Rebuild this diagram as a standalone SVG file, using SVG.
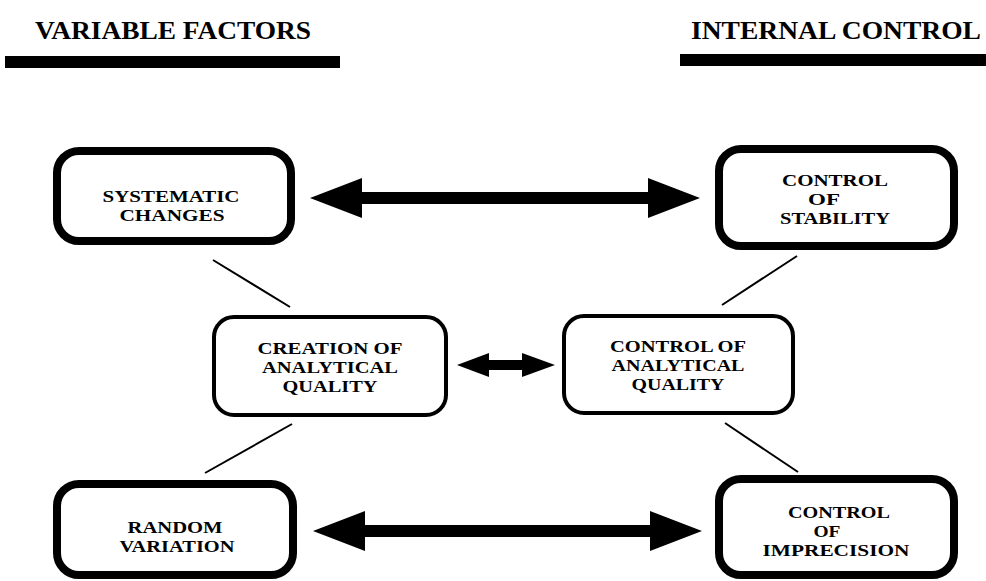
<svg xmlns="http://www.w3.org/2000/svg" width="986" height="581" viewBox="0 0 986 581">
<style>
text{font-family:"Liberation Serif","DejaVu Serif",serif;font-weight:bold;fill:#000;text-anchor:middle}
.hd{font-size:25px;text-anchor:start}
.bx{font-size:17px}
.thick{fill:#fff;stroke:#000;stroke-width:8}
.thin{fill:#fff;stroke:#000;stroke-width:4}
.ln{stroke:#000;stroke-width:2;fill:none}
.arr{fill:#000;stroke:none}
</style>
<rect width="986" height="581" fill="#fff"/>
<g id="header-left">
<text class="hd" x="35" y="39" textLength="276" lengthAdjust="spacingAndGlyphs">VARIABLE FACTORS</text>
<rect x="5" y="56" width="335" height="12" fill="#000"/>
</g>
<g id="header-right">
<text class="hd" x="691" y="39" textLength="290" lengthAdjust="spacingAndGlyphs">INTERNAL CONTROL</text>
<rect x="680" y="54" width="306" height="12" fill="#000"/>
</g>
<g id="connectors">
<line class="ln" x1="213" y1="260" x2="290" y2="307"/>
<line class="ln" x1="797" y1="256" x2="722" y2="305"/>
<line class="ln" x1="205" y1="473" x2="292" y2="424"/>
<line class="ln" x1="725" y1="423" x2="798" y2="472"/>
<polygon class="arr" points="310,198 362,178 362,192 648,192 648,178 700,198 648,218 648,204 362,204 362,218"/>
<polygon class="arr" points="457,365 489,353 489,360 522,360 522,353 555,365 522,377 522,370 489,370 489,377"/>
<polygon class="arr" points="313,531 365,511 365,525 650,525 650,511 702,531 650,551 650,537 365,537 365,551"/>
</g>
<g id="systematic-changes">
<rect class="thick" x="57" y="151" width="234" height="90" rx="22"/>
<text class="bx" x="171" y="202" textLength="137" lengthAdjust="spacingAndGlyphs">SYSTEMATIC</text>
<text class="bx" x="172" y="221" textLength="105" lengthAdjust="spacingAndGlyphs">CHANGES</text>
</g>
<g id="control-of-stability">
<rect class="thick" x="719" y="149" width="235" height="97" rx="22"/>
<text class="bx" x="835" y="186" textLength="106" lengthAdjust="spacingAndGlyphs">CONTROL</text>
<text class="bx" x="824" y="205" textLength="32" lengthAdjust="spacingAndGlyphs">OF</text>
<text class="bx" x="835" y="224" textLength="110" lengthAdjust="spacingAndGlyphs">STABILITY</text>
</g>
<g id="creation-of-analytical-quality">
<rect class="thin" x="214" y="317" width="232" height="98" rx="20"/>
<text class="bx" x="330" y="354" textLength="145" lengthAdjust="spacingAndGlyphs">CREATION OF</text>
<text class="bx" x="330" y="373" textLength="136" lengthAdjust="spacingAndGlyphs">ANALYTICAL</text>
<text class="bx" x="330" y="392" textLength="95" lengthAdjust="spacingAndGlyphs">QUALITY</text>
</g>
<g id="control-of-analytical-quality">
<rect class="thin" x="564" y="316" width="229" height="97" rx="20"/>
<text class="bx" x="678" y="352" textLength="136" lengthAdjust="spacingAndGlyphs">CONTROL OF</text>
<text class="bx" x="678" y="371" textLength="133" lengthAdjust="spacingAndGlyphs">ANALYTICAL</text>
<text class="bx" x="678" y="390" textLength="93" lengthAdjust="spacingAndGlyphs">QUALITY</text>
</g>
<g id="random-variation">
<rect class="thick" x="57" y="484" width="236" height="91" rx="22"/>
<text class="bx" x="175" y="533" textLength="95" lengthAdjust="spacingAndGlyphs">RANDOM</text>
<text class="bx" x="177" y="552" textLength="115" lengthAdjust="spacingAndGlyphs">VARIATION</text>
</g>
<g id="control-of-imprecision">
<rect class="thick" x="719" y="479" width="235" height="96" rx="22"/>
<text class="bx" x="839" y="518" textLength="102" lengthAdjust="spacingAndGlyphs">CONTROL</text>
<text class="bx" x="827" y="537" textLength="27" lengthAdjust="spacingAndGlyphs">OF</text>
<text class="bx" x="836" y="556" textLength="147" lengthAdjust="spacingAndGlyphs">IMPRECISION</text>
</g>
</svg>
